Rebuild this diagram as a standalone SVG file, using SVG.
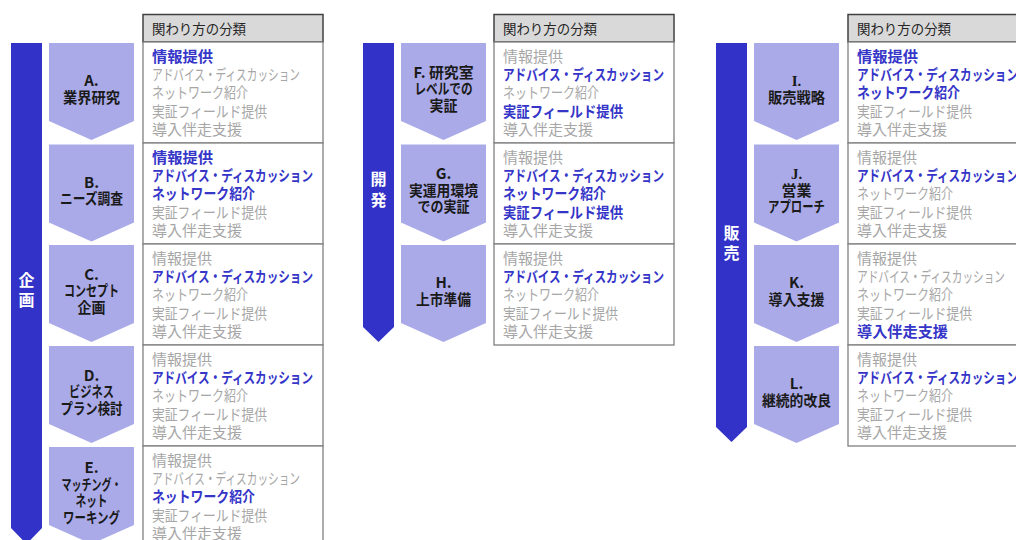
<svg xmlns="http://www.w3.org/2000/svg" width="1016" height="540" viewBox="0 0 1016 540">
<style>
text{font-family:"Noto Sans CJK JP","Noto Sans",sans-serif}
.bar{fill:#3232c8}
.bt{fill:#ffffff;font-size:16px;font-weight:bold;text-anchor:middle}
.chev{fill:#aaaae8}
.lb{fill:#1a1a1a;font-size:15px;font-weight:bold;text-anchor:middle}
.hd{fill:#d9d9d9;stroke:#404040;stroke-width:1.5}
.ht{fill:#262626;font-size:14px}
.cell{fill:#ffffff;stroke:#808080;stroke-width:1.3}
.g{fill:#a6a6a6;font-size:15px}
.b{fill:#3535c8;font-size:15px;font-weight:bold}
</style>
<rect width="1016" height="540" fill="#ffffff"/>
<g id="phases">
<g id="phase-kikaku">
<path class="bar" d="M11,43 H42 V528 L26.5,544 L11,528 Z"/>
<text class="bt" x="26.5" y="286">企</text>
<text class="bt" x="26.5" y="306">画</text>
</g>
<g id="phase-kaihatsu">
<path class="bar" d="M363,43 H394 V327 L378.5,342 L363,327 Z"/>
<text class="bt" x="378.5" y="185">開</text>
<text class="bt" x="378.5" y="206">発</text>
</g>
<g id="phase-hanbai">
<path class="bar" d="M716,43 H747 V427 L731.5,442 L716,427 Z"/>
<text class="bt" x="731.5" y="239">販</text>
<text class="bt" x="731.5" y="259">売</text>
</g>
</g>
<g id="headers">
<g id="header-left"><rect class="hd" x="143" y="14.5" width="180" height="27.5"/><text class="ht" x="152" y="34" textLength="94" lengthAdjust="spacingAndGlyphs">関わり方の分類</text></g>
<g id="header-mid"><rect class="hd" x="494" y="14.5" width="180" height="27.5"/><text class="ht" x="503" y="34" textLength="94" lengthAdjust="spacingAndGlyphs">関わり方の分類</text></g>
<g id="header-right"><rect class="hd" x="848" y="14.5" width="180" height="27.5"/><text class="ht" x="857" y="34" textLength="94" lengthAdjust="spacingAndGlyphs">関わり方の分類</text></g>
</g>
<g id="connectors"></g>

<!-- A -->
<g id="node-A">
<path class="chev" d="M49,43 H134 V121 L91.5,140 L49,121 Z"/>
<text class="lb" x="91.5" y="86">A.</text>
<text class="lb" x="91.5" y="102.5" textLength="57" lengthAdjust="spacingAndGlyphs">業界研究</text>
<rect class="cell" x="143" y="42" width="180" height="101"/>
<text class="b" x="152" y="61.5" textLength="61" lengthAdjust="spacingAndGlyphs">情報提供</text>
<text class="g" x="152" y="79.9" textLength="148" lengthAdjust="spacingAndGlyphs">アドバイス・ディスカッション</text>
<text class="g" x="152" y="98.3" textLength="96" lengthAdjust="spacingAndGlyphs">ネットワーク紹介</text>
<text class="g" x="152" y="116.7" textLength="115" lengthAdjust="spacingAndGlyphs">実証フィールド提供</text>
<text class="g" x="152" y="135" textLength="90" lengthAdjust="spacingAndGlyphs">導入伴走支援</text>
</g>
<!-- B -->
<g id="node-B">
<path class="chev" d="M49,144.5 H134 V222.5 L91.5,241.5 L49,222.5 Z"/>
<text class="lb" x="91.5" y="187.5">B.</text>
<text class="lb" x="91.5" y="204" textLength="63" lengthAdjust="spacingAndGlyphs">ニーズ調査</text>
<rect class="cell" x="143" y="143" width="180" height="101"/>
<text class="b" x="152" y="162.5" textLength="61" lengthAdjust="spacingAndGlyphs">情報提供</text>
<text class="b" x="152" y="180.9" textLength="161" lengthAdjust="spacingAndGlyphs">アドバイス・ディスカッション</text>
<text class="b" x="152" y="199.3" textLength="103" lengthAdjust="spacingAndGlyphs">ネットワーク紹介</text>
<text class="g" x="152" y="217.7" textLength="115" lengthAdjust="spacingAndGlyphs">実証フィールド提供</text>
<text class="g" x="152" y="236" textLength="90" lengthAdjust="spacingAndGlyphs">導入伴走支援</text>
</g>
<!-- C -->
<g id="node-C">
<path class="chev" d="M49,245 H134 V323 L91.5,342 L49,323 Z"/>
<text class="lb" x="91.5" y="279.5">C.</text>
<text class="lb" x="91.5" y="296" textLength="55" lengthAdjust="spacingAndGlyphs">コンセプト</text>
<text class="lb" x="91.5" y="312.5" textLength="28" lengthAdjust="spacingAndGlyphs">企画</text>
<rect class="cell" x="143" y="244" width="180" height="101"/>
<text class="g" x="152" y="263.5" textLength="60" lengthAdjust="spacingAndGlyphs">情報提供</text>
<text class="b" x="152" y="281.9" textLength="161" lengthAdjust="spacingAndGlyphs">アドバイス・ディスカッション</text>
<text class="g" x="152" y="300.3" textLength="96" lengthAdjust="spacingAndGlyphs">ネットワーク紹介</text>
<text class="g" x="152" y="318.7" textLength="115" lengthAdjust="spacingAndGlyphs">実証フィールド提供</text>
<text class="g" x="152" y="337" textLength="90" lengthAdjust="spacingAndGlyphs">導入伴走支援</text>
</g>
<!-- D -->
<g id="node-D">
<path class="chev" d="M49,346 H134 V424 L91.5,443 L49,424 Z"/>
<text class="lb" x="91.5" y="380.5">D.</text>
<text class="lb" x="91.5" y="397" textLength="45" lengthAdjust="spacingAndGlyphs">ビジネス</text>
<text class="lb" x="91.5" y="413.5" textLength="62" lengthAdjust="spacingAndGlyphs">プラン検討</text>
<rect class="cell" x="143" y="345" width="180" height="101"/>
<text class="g" x="152" y="364.5" textLength="60" lengthAdjust="spacingAndGlyphs">情報提供</text>
<text class="b" x="152" y="382.9" textLength="161" lengthAdjust="spacingAndGlyphs">アドバイス・ディスカッション</text>
<text class="g" x="152" y="401.3" textLength="96" lengthAdjust="spacingAndGlyphs">ネットワーク紹介</text>
<text class="g" x="152" y="419.7" textLength="115" lengthAdjust="spacingAndGlyphs">実証フィールド提供</text>
<text class="g" x="152" y="438" textLength="90" lengthAdjust="spacingAndGlyphs">導入伴走支援</text>
</g>
<!-- E -->
<g id="node-E">
<path class="chev" d="M49,447 H134 V525 L91.5,544 L49,525 Z"/>
<text class="lb" x="91.5" y="473">E.</text>
<text class="lb" x="91.5" y="489.5" textLength="60" lengthAdjust="spacingAndGlyphs">マッチング・</text>
<text class="lb" x="91.5" y="506" textLength="32" lengthAdjust="spacingAndGlyphs">ネット</text>
<text class="lb" x="91.5" y="522.5" textLength="57" lengthAdjust="spacingAndGlyphs">ワーキング</text>
<rect class="cell" x="143" y="446" width="180" height="101"/>
<text class="g" x="152" y="465.5" textLength="60" lengthAdjust="spacingAndGlyphs">情報提供</text>
<text class="g" x="152" y="483.9" textLength="148" lengthAdjust="spacingAndGlyphs">アドバイス・ディスカッション</text>
<text class="b" x="152" y="502.3" textLength="103" lengthAdjust="spacingAndGlyphs">ネットワーク紹介</text>
<text class="g" x="152" y="520.7" textLength="115" lengthAdjust="spacingAndGlyphs">実証フィールド提供</text>
<text class="g" x="152" y="539" textLength="90" lengthAdjust="spacingAndGlyphs">導入伴走支援</text>
</g>
<!-- F -->
<g id="node-F">
<path class="chev" d="M401,43 H486 V121 L443.5,140 L401,121 Z"/>
<text class="lb" x="443.5" y="77.5" textLength="60" lengthAdjust="spacingAndGlyphs">F. 研究室</text>
<text class="lb" x="443.5" y="94" textLength="58" lengthAdjust="spacingAndGlyphs">レベルでの</text>
<text class="lb" x="443.5" y="110.5" textLength="28" lengthAdjust="spacingAndGlyphs">実証</text>
<rect class="cell" x="494" y="42" width="180" height="101"/>
<text class="g" x="503" y="61.5" textLength="60" lengthAdjust="spacingAndGlyphs">情報提供</text>
<text class="b" x="503" y="79.9" textLength="161" lengthAdjust="spacingAndGlyphs">アドバイス・ディスカッション</text>
<text class="g" x="503" y="98.3" textLength="96" lengthAdjust="spacingAndGlyphs">ネットワーク紹介</text>
<text class="b" x="503" y="116.7" textLength="120" lengthAdjust="spacingAndGlyphs">実証フィールド提供</text>
<text class="g" x="503" y="135" textLength="90" lengthAdjust="spacingAndGlyphs">導入伴走支援</text>
</g>
<!-- G -->
<g id="node-G">
<path class="chev" d="M401,144.5 H486 V222.5 L443.5,241.5 L401,222.5 Z"/>
<text class="lb" x="443.5" y="179">G.</text>
<text class="lb" x="443.5" y="195.5" textLength="69" lengthAdjust="spacingAndGlyphs">実運用環境</text>
<text class="lb" x="443.5" y="212" textLength="52" lengthAdjust="spacingAndGlyphs">での実証</text>
<rect class="cell" x="494" y="143" width="180" height="101"/>
<text class="g" x="503" y="162.5" textLength="60" lengthAdjust="spacingAndGlyphs">情報提供</text>
<text class="b" x="503" y="180.9" textLength="161" lengthAdjust="spacingAndGlyphs">アドバイス・ディスカッション</text>
<text class="b" x="503" y="199.3" textLength="103" lengthAdjust="spacingAndGlyphs">ネットワーク紹介</text>
<text class="b" x="503" y="217.7" textLength="120" lengthAdjust="spacingAndGlyphs">実証フィールド提供</text>
<text class="g" x="503" y="236" textLength="90" lengthAdjust="spacingAndGlyphs">導入伴走支援</text>
</g>
<!-- H -->
<g id="node-H">
<path class="chev" d="M401,245 H486 V323 L443.5,342 L401,323 Z"/>
<text class="lb" x="443.5" y="288">H.</text>
<text class="lb" x="443.5" y="304.5" textLength="55" lengthAdjust="spacingAndGlyphs">上市準備</text>
<rect class="cell" x="494" y="244" width="180" height="101"/>
<text class="g" x="503" y="263.5" textLength="60" lengthAdjust="spacingAndGlyphs">情報提供</text>
<text class="b" x="503" y="281.9" textLength="161" lengthAdjust="spacingAndGlyphs">アドバイス・ディスカッション</text>
<text class="g" x="503" y="300.3" textLength="96" lengthAdjust="spacingAndGlyphs">ネットワーク紹介</text>
<text class="g" x="503" y="318.7" textLength="115" lengthAdjust="spacingAndGlyphs">実証フィールド提供</text>
<text class="g" x="503" y="337" textLength="90" lengthAdjust="spacingAndGlyphs">導入伴走支援</text>
</g>
<!-- I -->
<g id="node-I">
<path class="chev" d="M754,43 H839 V121 L796.5,140 L754,121 Z"/>
<text class="lb" x="796.5" y="86" style="font-family:'Liberation Serif',serif">I.</text>
<text class="lb" x="796.5" y="102.5" textLength="57" lengthAdjust="spacingAndGlyphs">販売戦略</text>
<rect class="cell" x="848" y="42" width="180" height="101"/>
<text class="b" x="857" y="61.5" textLength="61" lengthAdjust="spacingAndGlyphs">情報提供</text>
<text class="b" x="857" y="79.9" textLength="161" lengthAdjust="spacingAndGlyphs">アドバイス・ディスカッション</text>
<text class="b" x="857" y="98.3" textLength="103" lengthAdjust="spacingAndGlyphs">ネットワーク紹介</text>
<text class="g" x="857" y="116.7" textLength="115" lengthAdjust="spacingAndGlyphs">実証フィールド提供</text>
<text class="g" x="857" y="135" textLength="90" lengthAdjust="spacingAndGlyphs">導入伴走支援</text>
</g>
<!-- J -->
<g id="node-J">
<path class="chev" d="M754,144.5 H839 V222.5 L796.5,241.5 L754,222.5 Z"/>
<text class="lb" x="796.5" y="179" style="font-family:'Liberation Serif',serif">J.</text>
<text class="lb" x="796.5" y="195.5" textLength="30" lengthAdjust="spacingAndGlyphs">営業</text>
<text class="lb" x="796.5" y="212" textLength="57" lengthAdjust="spacingAndGlyphs">アプローチ</text>
<rect class="cell" x="848" y="143" width="180" height="101"/>
<text class="g" x="857" y="162.5" textLength="60" lengthAdjust="spacingAndGlyphs">情報提供</text>
<text class="b" x="857" y="180.9" textLength="161" lengthAdjust="spacingAndGlyphs">アドバイス・ディスカッション</text>
<text class="g" x="857" y="199.3" textLength="96" lengthAdjust="spacingAndGlyphs">ネットワーク紹介</text>
<text class="g" x="857" y="217.7" textLength="115" lengthAdjust="spacingAndGlyphs">実証フィールド提供</text>
<text class="g" x="857" y="236" textLength="90" lengthAdjust="spacingAndGlyphs">導入伴走支援</text>
</g>
<!-- K -->
<g id="node-K">
<path class="chev" d="M754,245 H839 V323 L796.5,342 L754,323 Z"/>
<text class="lb" x="796.5" y="288">K.</text>
<text class="lb" x="796.5" y="304.5" textLength="56" lengthAdjust="spacingAndGlyphs">導入支援</text>
<rect class="cell" x="848" y="244" width="180" height="101"/>
<text class="g" x="857" y="263.5" textLength="60" lengthAdjust="spacingAndGlyphs">情報提供</text>
<text class="g" x="857" y="281.9" textLength="148" lengthAdjust="spacingAndGlyphs">アドバイス・ディスカッション</text>
<text class="g" x="857" y="300.3" textLength="96" lengthAdjust="spacingAndGlyphs">ネットワーク紹介</text>
<text class="g" x="857" y="318.7" textLength="115" lengthAdjust="spacingAndGlyphs">実証フィールド提供</text>
<text class="b" x="857" y="337" textLength="91" lengthAdjust="spacingAndGlyphs">導入伴走支援</text>
</g>
<!-- L -->
<g id="node-L">
<path class="chev" d="M754,346 H839 V424 L796.5,443 L754,424 Z"/>
<text class="lb" x="796.5" y="389">L.</text>
<text class="lb" x="796.5" y="405.5" textLength="69" lengthAdjust="spacingAndGlyphs">継続的改良</text>
<rect class="cell" x="848" y="345" width="180" height="101"/>
<text class="g" x="857" y="364.5" textLength="60" lengthAdjust="spacingAndGlyphs">情報提供</text>
<text class="b" x="857" y="382.9" textLength="161" lengthAdjust="spacingAndGlyphs">アドバイス・ディスカッション</text>
<text class="g" x="857" y="401.3" textLength="96" lengthAdjust="spacingAndGlyphs">ネットワーク紹介</text>
<text class="g" x="857" y="419.7" textLength="115" lengthAdjust="spacingAndGlyphs">実証フィールド提供</text>
<text class="g" x="857" y="438" textLength="90" lengthAdjust="spacingAndGlyphs">導入伴走支援</text>
</g>
</svg>
